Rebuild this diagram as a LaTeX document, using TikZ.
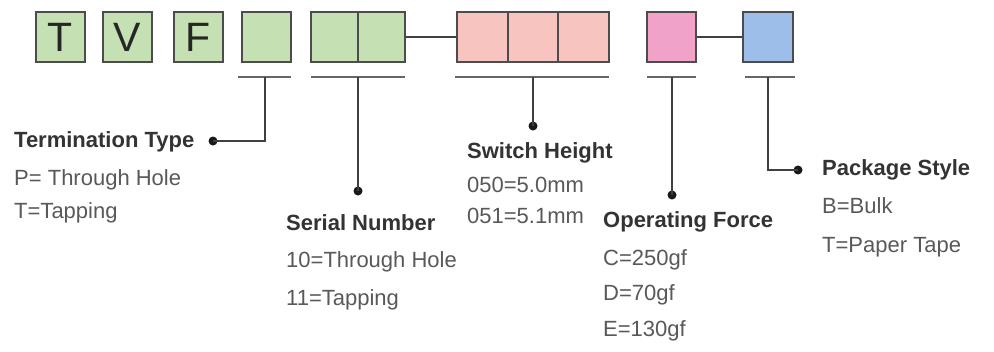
\documentclass[tikz,border=0pt]{standalone}
\usepackage{fontspec}
\setmainfont{Liberation Sans}
\begin{document}
\begin{tikzpicture}[x=1pt,y=-1pt,
  cell/.style={draw=black!70,line width=2pt,minimum height=50pt,inner sep=0pt,font=\fontsize{41}{41}\selectfont,text=black!85},
  gcell/.style={cell,fill=cellgreen,minimum width=49pt},
  scell/.style={cell,fill=cellsalmon,minimum width=50.7pt},
  pcell/.style={cell,fill=cellpink,minimum width=49pt},
  bcell/.style={cell,fill=cellblue,minimum width=50pt},
  uline/.style={draw=black!60,line width=1.8pt},
  conn/.style={draw=black!75,line width=1.8pt},
  dot/.style={circle,fill=black!90,inner sep=0pt,minimum size=9pt},
  ttl/.style={anchor=base west,inner sep=0pt,font=\bfseries\fontsize{22}{22}\selectfont,text=black!80},
  itm/.style={anchor=base west,inner sep=0pt,font=\fontsize{22}{22}\selectfont,text=black!65}
]
\definecolor{cellgreen}{RGB}{197,224,178}
\definecolor{cellsalmon}{RGB}{248,196,192}
\definecolor{cellpink}{RGB}{240,162,200}
\definecolor{cellblue}{RGB}{157,190,232}
\useasboundingbox[fill=white] (0,0) rectangle (994,351);

% boxes
\node[gcell] (bT) at (60.5,37) {T};
\node[gcell] (bV) at (127,37) {V};
\node[gcell] (bF) at (198,37) {F};
\node[gcell] (b4) at (266,37) {};
\node[gcell,minimum width=47pt] (b5) at (334.5,37) {};
\node[gcell,minimum width=47pt] (b6) at (381.5,37) {};
\node[scell] (s1) at (482.3,37) {};
\node[scell] (s2) at (533,37) {};
\node[scell] (s3) at (583.7,37) {};
\node[pcell] (op) at (671.5,37) {};
\node[bcell] (bl) at (768,37) {};

\draw[conn] (b6.east) -- (s1.west);
\draw[conn] (op.east) -- (bl.west);

% underlines
\coordinate (u4a) at (238,77); \coordinate (u4b) at (291,77); \coordinate (t4) at (265,77);
\coordinate (u5a) at (311,77); \coordinate (u5b) at (405,77); \coordinate (t5) at (358,77);
\coordinate (usa) at (455,77); \coordinate (usb) at (609,77); \coordinate (ts) at (533,77);
\coordinate (uoa) at (647,77); \coordinate (uob) at (696,77); \coordinate (to) at (672,77);
\coordinate (uba) at (745,77); \coordinate (ubb) at (795,77); \coordinate (tb) at (768,77);
\draw[uline] (u4a) -- (u4b);
\draw[uline] (u5a) -- (u5b);
\draw[uline] (usa) -- (usb);
\draw[uline] (uoa) -- (uob);
\draw[uline] (uba) -- (ubb);

% dots
\node[dot] (d4) at (213,141) {};
\node[dot] (d5) at (358,191) {};
\node[dot] (ds) at (533,126) {};
\node[dot] (do) at (672,195) {};
\node[dot] (db) at (798,170) {};

\draw[conn] (t4) |- (d4.center);
\draw[conn] (t5) -- (d5.center);
\draw[conn] (ts) -- (ds.center);
\draw[conn] (to) -- (do.center);
\draw[conn] (tb) |- (db.center);

% texts
\node[ttl] (tt) at (14,147) {Termination Type};
\node[itm] (tt1) at (14,185) {P= Through Hole};
\node[itm] (tt2) at (14,218) {T=Tapping};

\node[ttl] (sn) at (286,230) {Serial Number};
\node[itm] (sn1) at (286,267) {10=Through Hole};
\node[itm] (sn2) at (286,305) {11=Tapping};

\node[ttl] (sh) at (467,158) {Switch Height};
\node[itm] (sh1) at (467,192) {050=5.0mm};
\node[itm] (sh2) at (467,223) {051=5.1mm};

\node[ttl] (of) at (603,227) {Operating Force};
\node[itm] (of1) at (603,265) {C=250gf};
\node[itm] (of2) at (603,300) {D=70gf};
\node[itm] (of3) at (603,336) {E=130gf};

\node[ttl] (ps) at (822,175) {Package Style};
\node[itm] (ps1) at (822,213) {B=Bulk};
\node[itm] (ps2) at (822,252) {T=Paper Tape};
\end{tikzpicture}
\end{document}
